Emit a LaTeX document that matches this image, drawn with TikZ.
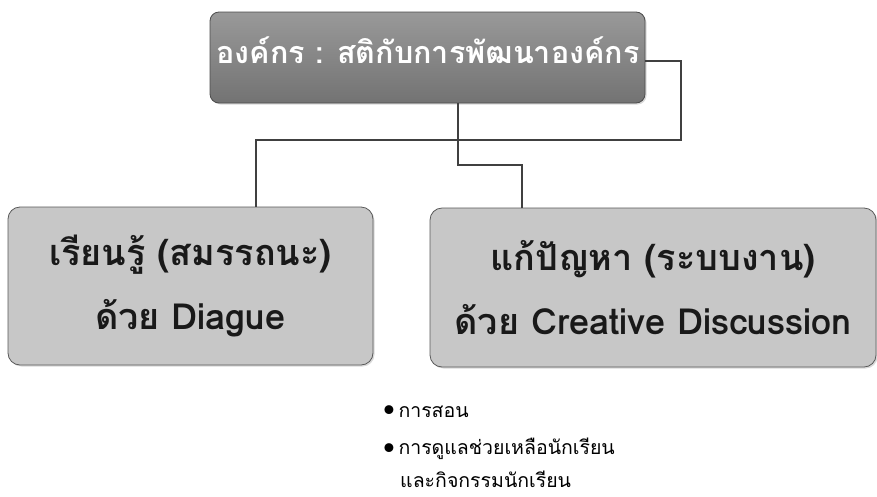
\documentclass[tikz,border=0pt]{standalone}
\usepackage{fontspec}
\newfontfamily\thaifont[Script=Thai]{Loma}
\usetikzlibrary{shadows}
\begin{document}
\begin{tikzpicture}[x=1pt,y=-1pt,
  topbox/.style={draw=black!70,line width=0.8pt,rounded corners=9pt,top color=black!40,bottom color=black!55,drop shadow={opacity=0.3,shadow xshift=1.5pt,shadow yshift=-1.5pt},inner sep=0pt},
  subbox/.style={draw=black!65,line width=0.8pt,rounded corners=12pt,fill=black!22,drop shadow={opacity=0.3,shadow xshift=1.5pt,shadow yshift=-1.5pt},inner sep=0pt,
     font=\thaifont\bfseries\fontsize{36}{64}\selectfont,align=center,text=black!90},
  conn/.style={draw=black!75,line width=1.6pt},
  bullet/.style={font=\thaifont\fontsize{19.5}{20}\selectfont,anchor=west,text=black,inner sep=0pt}
]
\useasboundingbox (0,0) rectangle (877,496);
% boxes
\node[topbox,minimum width=435pt,minimum height=91pt] (top) at (427.5,57.5) {};
\node[font=\thaifont\bfseries\fontsize{30.5}{32}\selectfont,text=white] (toptext) at (428,50) {องค์กร : สติกับการพัฒนาองค์กร};
\node[subbox,minimum width=365pt,minimum height=158pt] (left) at (190.5,286) {เรียนรู้ (สมรรถนะ)\\ด้วย Diague};
\node[subbox,minimum width=446pt,minimum height=159pt] (right) at (653,287.5) {แก้ปัญหา (ระบบงาน)\\ด้วย Creative Discussion};
% connectors
\draw[conn] ([yshift=-3.5pt]top.east) -- (681,61) -- (681,140) -- (256,140) -- ([xshift=65.5pt]left.north);
\draw[conn] ([xshift=30.5pt]top.south) -- (458,165) -- (522,165) -- ([xshift=-131pt]right.north);
% bullets
\node[bullet] (b1) at (383,412) {{\fontsize{26}{20}\selectfont\raisebox{-1.5pt}{\textbullet}}\,การสอน};
\node[bullet] (b2) at (383,449) {{\fontsize{26}{20}\selectfont\raisebox{-1.5pt}{\textbullet}}\,การดูแลช่วยเหลือนักเรียน};
\node[bullet] (b3) at (400,479) {และกิจกรรมนักเรียน};
\end{tikzpicture}
\end{document}
